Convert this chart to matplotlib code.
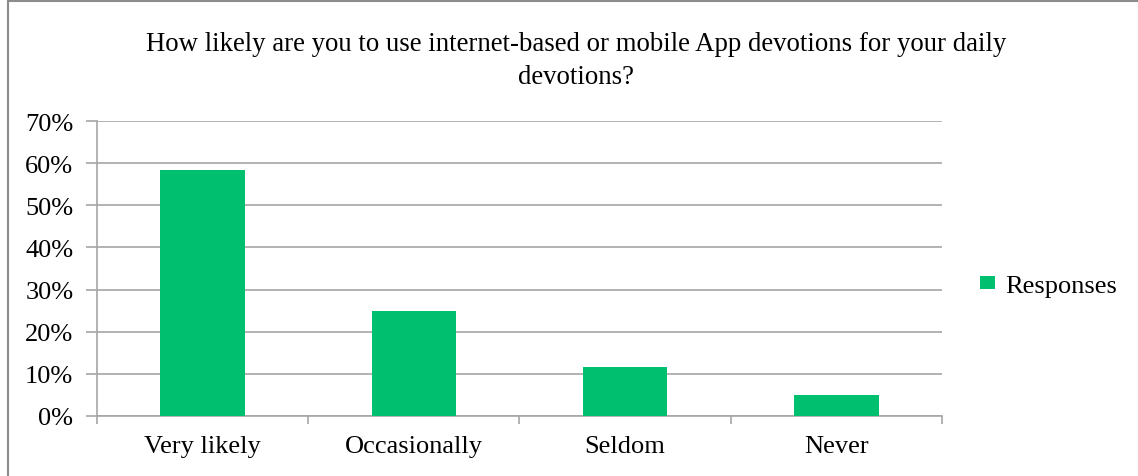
import numpy as np
import matplotlib.pyplot as plt
from matplotlib.patches import Rectangle
from matplotlib.ticker import PercentFormatter

plt.rcParams['font.family'] = ['Liberation Serif', 'DejaVu Serif']

# survey responses
categories = ['Very likely', 'Occasionally', 'Seldom', 'Never']
responses = [58.3, 25.0, 11.7, 5.0]   # percent
series_name = 'Responses'
title = ('How likely are you to use internet-based or mobile App devotions for your daily\n'
         'devotions?')

green = '#00BF6F'
grid_c = '#A6A6A6'

fig = plt.figure(figsize=(11.38, 4.77), dpi=100)
ax = fig.add_axes([0.0852, 0.1258, 0.7426, 0.6184])

x = np.arange(len(categories))
ax.bar(x, responses, width=0.40, color=green, label=series_name, zorder=3)

ax.set_xlim(-0.5, len(categories) - 0.5)
ax.set_ylim(0, 70)
ax.set_yticks(np.arange(0, 71, 10))
ax.yaxis.set_major_formatter(PercentFormatter(decimals=0))
ax.grid(axis='y', color=grid_c, linewidth=1.2, zorder=0)

# category labels centred, tick marks between categories
ax.set_xticks(x)
ax.set_xticklabels(categories)
ax.set_xticks(np.arange(-0.5, len(categories), 1), minor=True)
ax.tick_params(axis='x', which='major', length=0, pad=14, labelsize=19)
ax.tick_params(axis='x', which='minor', length=6, color=grid_c, width=1.2)
ax.tick_params(axis='y', length=8, color=grid_c, width=1.2, pad=9, labelsize=19)

for s in ['top', 'right']:
    ax.spines[s].set_visible(False)
for s in ['left', 'bottom']:
    ax.spines[s].set_color(grid_c)
    ax.spines[s].set_linewidth(1.2)

fig.text(0.506, 0.872, title, ha='center', va='center', fontsize=19.25,
         linespacing=1.45)

ax.legend(loc='center left', bbox_to_anchor=(1.017, 0.44), frameon=False,
          fontsize=19, handlelength=0.55, handleheight=0.37, handletextpad=0.4)

# outer chart frame
fig.patches.append(Rectangle((8 / 1138, -0.01), 1.2, 1.0 - 1.5 / 477 + 0.01,
                             transform=fig.transFigure, fill=False,
                             edgecolor='#8C8C8C', linewidth=1.5))

fig.savefig('out.png', dpi=100)
